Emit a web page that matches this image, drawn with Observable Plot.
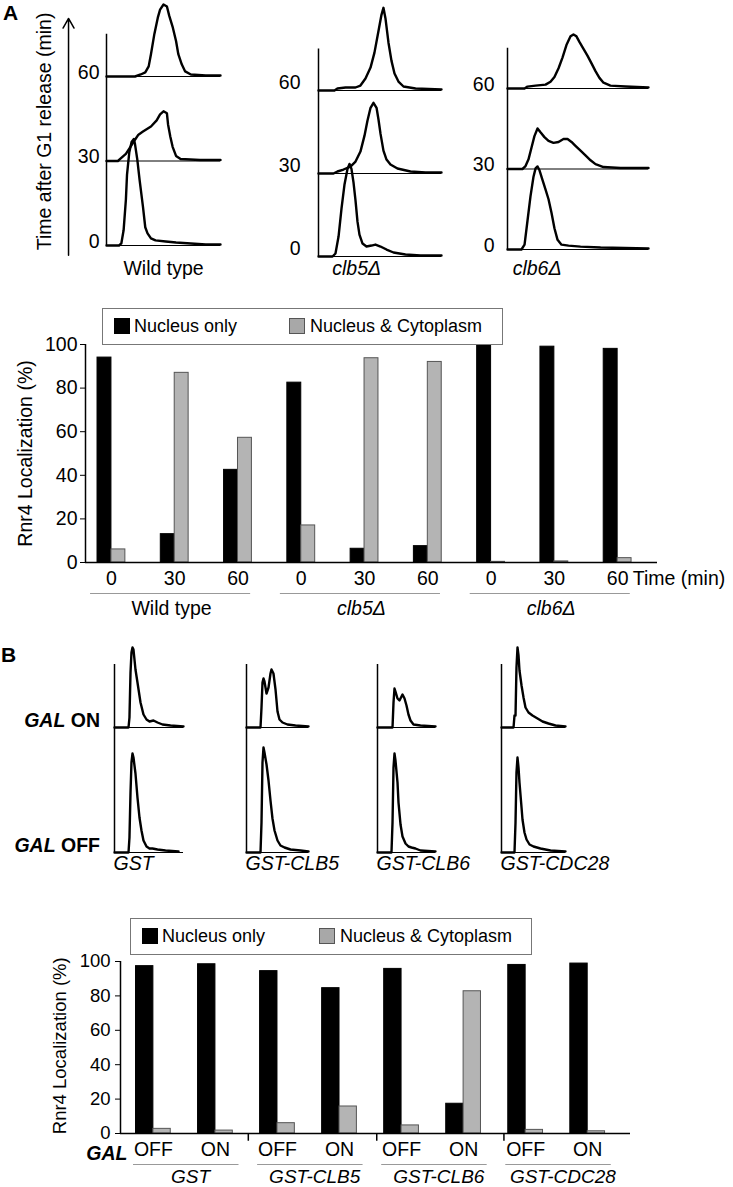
<!DOCTYPE html>
<html>
<head>
<meta charset="utf-8">
<script src="https://cdn.jsdelivr.net/npm/d3@7"></script>
<script src="https://cdn.jsdelivr.net/npm/@observablehq/plot@0.6"></script>
<style>
  html, body { margin: 0; padding: 0; background: #fff; }
  #fig { position: relative; width: 733px; height: 1187px; overflow: hidden; background: #fff;
         font-family: "Liberation Sans", Arial, Helvetica, sans-serif; color: #000; }
  #fig svg { position: absolute; left: 0; top: 0; }
  .abs { position: absolute; white-space: nowrap; }
  .legend { position: absolute; border: 1px solid #777; background: #fff; box-sizing: border-box; }
  .sw { position: absolute; width: 16px; height: 16px; box-sizing: border-box; }
  .lt { position: absolute; font-size: 18px; line-height: 20px; white-space: nowrap; }
</style>
</head>
<body>
<div id="fig"></div>
<script>
// ---------------- DATA ----------------
// Panel A: flow cytometry histograms, [DNA content (channel, % of axis), cell count]
const timesA = [0, 30, 60];
const strainsA = ["Wild type", "clb5\u0394", "clb6\u0394"];
const wt0 = [[0,0],[11,0],[13,2],[15,15],[17,45],[18,70],[20,92],[22,102],[24,105],[25,100],[27,85],[29,65],[32,38],[34,18],[36,12],[39,7],[43,5],[52,4],[61,3],[74,2],[87,1],[100,1]];
const wt30 = [[0,0],[10,0],[12,2],[17,7],[21,14],[25,21],[28,26],[32,29],[39,34],[44,40],[47,46],[50,49],[53,47],[54,36],[56,24],[58,14],[61,5],[65,2],[82,1],[100,1]];
const wt60 = [[0,0],[25,0],[30,2],[34,4],[37,10],[39,22],[42,42],[45,58],[47,66],[50,71],[53,69],[55,60],[58,49],[61,35],[63,22],[66,12],[69,5],[74,2],[87,1],[100,1]];
const clb5_0 = [[0,0],[11.4,0],[13.8,3],[16.3,20],[18.7,48],[21.1,72],[23.6,88],[25.2,93],[26.8,88],[28.5,74],[30.1,56],[31.7,35],[33.3,22],[35.8,13],[39,10],[43.1,11],[46.3,12],[50.4,10],[55.3,7],[61,4],[70.7,2],[82.9,1],[100,1]];
const clb5_30 = [[0,0],[12.2,0],[15.4,2],[20.3,4],[26,7],[30.1,12],[34.1,22],[37.4,38],[39.8,53],[42.3,66],[44.7,71],[47.2,66],[48.8,54],[50.4,40],[52.8,23],[55.3,14],[58.5,9],[64.2,5],[74.8,2],[87,1],[100,1]];
const clb5_60 = [[0,0],[13,0],[15.4,2],[22,3],[30.1,3],[34.1,5],[38.2,12],[42.3,23],[45.5,38],[48.8,60],[51.2,76],[52.8,83],[54.5,72],[56.9,48],[59.3,30],[61.8,17],[65,9],[69.1,4],[78.9,2],[100,1]];
const clb6_0 = [[0,0],[9.9,0],[12.1,5],[14.2,30],[16.3,55],[18.4,75],[19.9,84],[21.3,86],[22.7,82],[24.8,72],[27,62],[29.1,52],[31.2,38],[33.3,22],[35.5,10],[38.3,5],[43.3,4],[51.8,3],[66,2],[100,1]];
const clb6_30 = [[0,0],[10.6,0],[12.8,3],[14.9,10],[17,22],[19.1,34],[21.3,42],[23.4,38],[26.2,33],[29.1,29],[32.6,27],[36.2,28],[39.7,31],[42.6,31],[45.4,28],[48.2,24],[51.8,19],[55.3,14],[58.9,9],[62.4,5],[68.1,2],[80.1,1],[100,1]];
const clb6_60 = [[0,0],[12.1,0],[14.2,2],[19.9,3],[27,4],[30.5,7],[33.3,12],[36.2,21],[39,32],[41.8,45],[44.7,54],[46.8,56],[48.9,54],[51.1,48],[53.9,41],[56.7,34],[59.6,26],[62.4,18],[65.2,11],[68.1,6],[73,3],[83.7,2],[100,1]];

// Panel A: Rnr4 localization (%)
const nucleusOnlyA = [94, 13, 42.5, 82.5, 6.3, 7.5, 100, 99, 98];
const nucleusCytoA = [6, 87, 57.2, 17, 93.7, 92, 0.3, 0.5, 2];

// Panel B: flow cytometry histograms
const conditionsB = ["OFF", "ON"];
const constructsB = ["GST", "GST-CLB5", "GST-CLB6", "GST-CDC28"];
const gstOn = [[0,0],[20.3,0],[21.7,10],[23.2,55],[24.6,75],[26.1,80],[27.5,78],[30.4,58],[33.3,45],[37.7,25],[42,13],[46.4,8],[50.7,6],[56.5,7],[62.3,5],[69.6,3],[81.2,2],[100,1]];
const gstOff = [[0,0],[20.3,0],[21.7,15],[23.2,60],[24.6,90],[26.1,99],[27.5,95],[30.4,79],[33.3,55],[36.2,35],[39.1,22],[42,12],[46.4,6],[50.7,4],[55.1,4],[62.3,3],[73.9,2],[92.8,1]];
const clb5On = [[0,0],[22.6,0],[24.2,20],[25.8,45],[27.4,49],[29,46],[32.3,34],[35.5,40],[38.7,54],[40.3,58],[43.5,54],[46.8,38],[50,16],[53.2,8],[58.1,5],[66.1,3],[79,2],[100,1]];
const clb5Off = [[0,0],[22.6,0],[24.2,30],[25.8,90],[27.4,105],[29,100],[32.3,88],[35.5,72],[38.7,52],[41.9,34],[45.2,22],[50,12],[54.8,7],[61.3,5],[71,3],[87.1,2],[100,1]];
const clb6On = [[0,0],[25.9,0],[27.6,25],[29.3,39],[31,36],[34.5,29],[37.9,27],[41.4,31],[43.1,33],[46.6,29],[50,22],[53.4,13],[56.9,7],[62.1,3],[74.1,2],[100,1]];
const clb6Off = [[0,0],[24.1,0],[25.9,30],[27.6,85],[29.3,99],[31,92],[34.5,70],[36.2,50],[39.7,28],[43.1,16],[48.3,9],[53.4,6],[58.6,5],[65.5,4],[74.1,2],[100,1]];
const cdc28On = [[0,0],[18.8,0],[20.3,12],[21.9,12],[23.4,60],[25,80],[26.6,72],[28.1,57],[31.3,42],[34.4,30],[37.5,20],[42.2,15],[48.4,12],[56.3,9],[64.1,6],[73.4,4],[84.4,2],[100,1]];
const cdc28Off = [[0,0],[20.3,0],[21.9,30],[23.4,80],[25,95],[26.6,85],[28.1,70],[31.3,45],[32.8,33],[35.9,20],[39.1,13],[43.8,8],[50,6],[60.9,4],[76.6,2],[100,1]];

// Panel B: Rnr4 localization (%)
const nucleusOnlyB = [97.3, 98.4, 94.4, 84.5, 95.7, 17.3, 98, 98.8];
const nucleusCytoB = [2.7, 1.7, 6, 15.7, 4.7, 82.7, 2.1, 1.3];

const legendLabels = ["Nucleus only", "Nucleus & Cytoplasm"];
const barColors = ["#000000", "#b4b4b4"];

// ---------------- DRAWING ----------------
const FONT = '"Liberation Sans", Arial, Helvetica, sans-serif';
const fig = document.getElementById("fig");
const baseStyle = {fontFamily: FONT, fontSize: "19.5px", color: "#000", background: "transparent", overflow: "visible"};
function add(node) { fig.appendChild(node); }
function html(tag, cls, css, inner) {
  const e = document.createElement(tag);
  if (cls) e.className = cls;
  Object.assign(e.style, css);
  if (inner != null) e.innerHTML = inner;
  fig.appendChild(e);
  return e;
}

// Panel letters
html("div", "abs", {left: "3px", top: "1px", fontSize: "21px", fontWeight: "bold", lineHeight: "24px"}, "A");
html("div", "abs", {left: "1px", top: "643px", fontSize: "21px", fontWeight: "bold", lineHeight: "24px"}, "B");

// ---- Panel A histograms ----
const countScale = 0.36; // minutes of vertical offset per count unit
const groupsA = [
  {name: strainsA[0], italic: false, curves: [wt0, wt30, wt60], axisX: 106, endX: 220, base0: 245, base60: 76, pad: 7, tickDy: -4, labelCh: 50, arrow: true},
  {name: strainsA[1], italic: true, curves: [clb5_0, clb5_30, clb5_60], axisX: 318, endX: 441, base0: 256, base60: 90, pad: 18, tickDy: -8, labelCh: 31},
  {name: strainsA[2], italic: true, curves: [clb6_0, clb6_30, clb6_60], axisX: 507, endX: 648, base0: 249, base60: 88, pad: 13, tickDy: -4, labelCh: 21}
];
groupsA.forEach(g => {
  const pxPerMin = (g.base0 - g.base60) / 60;
  const yTop = 75;
  const marginTop = g.base0 - yTop * pxPerMin;
  const height = 290;
  const rows = g.curves.flatMap((c, ci) => c.map(([ch, n]) => ({t: timesA[ci], ch, y: timesA[ci] + n * countScale})));
  const marks = [
    Plot.ruleY(timesA, {stroke: "#000", strokeWidth: 1}),
    Plot.ruleX([0], {stroke: "#000", strokeWidth: 1.5}),
    Plot.line(rows, {x: "ch", y: "y", z: "t", stroke: "#000", strokeWidth: 2.4, strokeLinejoin: "round"}),
    Plot.axisY({ticks: timesA, tickSize: 0, tickPadding: g.pad, dy: g.tickDy, label: null, tickFormat: d => String(d)}),
    Plot.text([g.name], {x: () => g.labelCh, frameAnchor: "bottom", lineAnchor: "middle", dy: 268 - g.base0, fontStyle: g.italic ? "italic" : "normal"})
  ];
  if (g.arrow) {
    marks.push(Plot.arrow([0], {x1: () => -33.3, x2: () => -33.3, y1: () => -3.5, y2: () => 80.6, stroke: "#000", strokeWidth: 1.5, headLength: 11}));
    marks.push(Plot.text(["Time after G1 release (min)"], {x: () => -54.4, y: () => 40.5, rotate: -90}));
  }
  add(Plot.plot({
    width: 733, height, marginLeft: g.axisX, marginRight: 733 - g.endX,
    marginTop, marginBottom: height - g.base0,
    x: {domain: [0, 100], axis: null},
    y: {domain: [0, yTop], label: null},
    style: baseStyle,
    marks
  }));
});

// ---- Panel A bar chart ----
const barsA = nucleusOnlyA.map((v, i) => ({i, black: v, gray: nucleusCytoA[i], time: String(timesA[i % 3])}));
const xDomA = [-0.41, 8.63];
const wA = 0.22;
const strainRows = strainsA.map((s, g) => ({s, g}));
add(Plot.plot({
  width: 733, height: 620, marginLeft: 85, marginRight: 76, marginTop: 344, marginBottom: 58,
  x: {domain: xDomA},
  y: {domain: [0, 100], label: null},
  style: baseStyle,
  marks: [
    Plot.rect(barsA, {x1: d => d.i - wA, x2: d => d.i, y1: () => 0, y2: "black", fill: barColors[0], stroke: "#000", strokeWidth: 1}),
    Plot.rect(barsA, {x1: d => d.i, x2: d => d.i + wA, y1: () => 0, y2: "gray", fill: barColors[1], stroke: "#555", strokeWidth: 1}),
    Plot.ruleY([0], {stroke: "#000", strokeWidth: 1.5}),
    Plot.ruleX([xDomA[0]], {stroke: "#000", strokeWidth: 1.5}),
    Plot.axisY({ticks: [0, 20, 40, 60, 80, 100], tickSize: 5, tickPadding: 3, label: null}),
    Plot.axisX({ticks: barsA.map(d => d.i), tickFormat: i => barsA[i].time, tickSize: 0, tickPadding: 9, label: null}),
    Plot.text(["Time (min)"], {x: () => 8.24, y: () => 0, dy: 16, textAnchor: "start"}),
    Plot.ruleY(strainRows, {x1: d => 3 * d.g - 0.33, x2: d => 3 * d.g + 2.2, y: () => 0, dy: 31, stroke: "#999", strokeWidth: 1}),
    Plot.text(strainRows.filter(d => d.g === 0), {x: d => 3 * d.g + 0.95, y: () => 0, dy: 46, text: "s"}),
    Plot.text(strainRows.filter(d => d.g > 0), {x: d => 3 * d.g + 0.95, y: () => 0, dy: 46, text: "s", fontStyle: "italic"}),
    Plot.text(["Rnr4 Localization (%)"], {x: () => xDomA[0], y: () => 50, dx: -60, rotate: -90})
  ]
}));

// Legend A
function legend(left, top, width, gap) {
  const box = html("div", "legend", {left: left + "px", top: top + "px", width: width + "px", height: "37px"});
  const sw1 = document.createElement("div"); sw1.className = "sw";
  Object.assign(sw1.style, {left: "11px", top: "9px", background: barColors[0], border: "1px solid #000"});
  const t1 = document.createElement("div"); t1.className = "lt"; t1.textContent = legendLabels[0];
  Object.assign(t1.style, {left: "31px", top: "7px"});
  const sw2 = document.createElement("div"); sw2.className = "sw";
  Object.assign(sw2.style, {left: gap + "px", top: "9px", background: "#a8a8a8", border: "1px solid #555"});
  const t2 = document.createElement("div"); t2.className = "lt"; t2.textContent = legendLabels[1];
  Object.assign(t2.style, {left: (gap + 21) + "px", top: "7px"});
  box.append(sw1, t1, sw2, t2);
}
legend(102, 308, 401, 186);

// ---- Panel B histograms ----
const rowGap = 125; // count units between OFF and ON baselines
const groupsB = [
  {name: constructsB[0], curves: [gstOff, gstOn], axisX: 114, endX: 183},
  {name: constructsB[1], curves: [clb5Off, clb5On], axisX: 246, endX: 308},
  {name: constructsB[2], curves: [clb6Off, clb6On], axisX: 377, endX: 435},
  {name: constructsB[3], curves: [cdc28Off, cdc28On], axisX: 501, endX: 565}
];
groupsB.forEach(g => {
  const rows = g.curves.flatMap((c, ci) => c.map(([ch, n]) => ({row: ci, ch, y: ci * rowGap + n})));
  add(Plot.plot({
    width: 733, height: 880, marginLeft: g.axisX, marginRight: 733 - g.endX, marginTop: 664, marginBottom: 28,
    x: {domain: [0, 100], axis: null},
    y: {domain: [0, 188], axis: null},
    style: baseStyle,
    marks: [
      Plot.ruleY([0, rowGap], {stroke: "#000", strokeWidth: 1}),
      Plot.ruleX([0], {stroke: "#000", strokeWidth: 1.5}),
      Plot.line(rows, {x: "ch", y: "y", z: "row", stroke: "#000", strokeWidth: 2.4, strokeLinejoin: "round"}),
      Plot.text([g.name], {x: () => 0, frameAnchor: "bottom", lineAnchor: "middle", dy: 11, dx: -1, textAnchor: "start", fontStyle: "italic"})
    ]
  }));
});
html("div", "abs", {right: (733 - 100) + "px", top: "709px", fontSize: "19.5px", fontWeight: "bold", lineHeight: "22px"}, "<i>GAL</i> " + conditionsB[1]);
html("div", "abs", {right: (733 - 100) + "px", top: "834px", fontSize: "19.5px", fontWeight: "bold", lineHeight: "22px"}, "<i>GAL</i> " + conditionsB[0]);

// ---- Panel B bar chart ----
const barsB = nucleusOnlyB.map((v, i) => ({i, black: v, gray: nucleusCytoB[i], cond: conditionsB[i % 2]}));
const xDomB = [-0.53, 7.69];
const wB = 0.28;
const constructRows = constructsB.map((s, g) => ({s, g}));
add(Plot.plot({
  width: 733, height: 1187, marginLeft: 120, marginRight: 103, marginTop: 961, marginBottom: 54,
  x: {domain: xDomB},
  y: {domain: [0, 100], label: null},
  style: {...baseStyle, fontSize: "18.5px"},
  marks: [
    Plot.rect(barsB, {x1: d => d.i - wB, x2: d => d.i, y1: () => 0, y2: "black", fill: barColors[0], stroke: "#000", strokeWidth: 1}),
    Plot.rect(barsB, {x1: d => d.i, x2: d => d.i + wB, y1: () => 0, y2: "gray", fill: barColors[1], stroke: "#555", strokeWidth: 1}),
    Plot.ruleY([0], {stroke: "#000", strokeWidth: 1.5}),
    Plot.ruleX([xDomB[0]], {stroke: "#000", strokeWidth: 1.5}),
    Plot.ruleX([1.53, 3.6, 5.65], {y1: () => 0, y2: () => -4.5, stroke: "#000", strokeWidth: 1.5}),
    Plot.axisY({ticks: [0, 20, 40, 60, 80, 100], tickSize: 5, tickPadding: 5, label: null}),
    Plot.axisX({ticks: barsB.map(d => d.i), tickFormat: i => barsB[i].cond, tickSize: 0, tickPadding: 9, label: null, fontSize: 19.5}),
    Plot.text(["GAL"], {x: () => xDomB[0], y: () => 0, dx: 7, dy: 20, textAnchor: "end", fontWeight: "bold", fontStyle: "italic", fontSize: 19.5}),
    Plot.ruleY(constructRows, {x1: d => 2 * d.g - 0.32, x2: d => 2 * d.g + 1.38, y: () => 0, dy: 31, stroke: "#999", strokeWidth: 1}),
    Plot.text(constructRows, {x: d => 2 * d.g + 0.6, y: () => 0, dy: 43, text: "s", fontStyle: "italic", fontSize: 19}),
    Plot.text(["Rnr4 Localization (%)"], {x: () => xDomB[0], y: () => 51, dx: -60, rotate: -90})
  ]
}));
legend(130, 918, 402, 188);
</script>
</body>
</html>
